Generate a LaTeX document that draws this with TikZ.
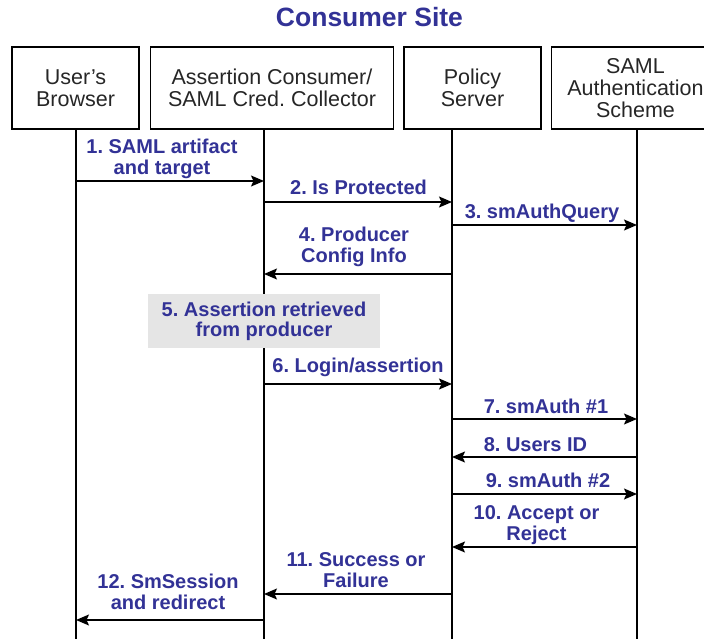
\documentclass[tikz,border=0pt]{standalone}
\usepackage{fontspec}
\setmainfont{Liberation Sans}
\usetikzlibrary{arrows.meta, positioning}

\definecolor{msgblue}{RGB}{50,50,150}
\frenchspacing

\begin{document}
\begin{tikzpicture}
  [x = 1pt, y = -1pt,
   actor/.style    = {draw, line width = 1.5pt, inner sep = 0pt, align = center,
                      minimum height = 82pt, text = black!85,
                      font = \fontsize{21.5}{22}\selectfont},
   lifeline/.style = {line width = 1.5pt},
   msg/.style      = {line width = 1.5pt,
                      -{Stealth[length = 13pt, width = 11pt, inset = 2.5pt]}},
   lbl/.style      = {anchor = north, inner sep = 0pt, align = center,
                      text = msgblue, font = \fontsize{20}{21}\selectfont\bfseries},
   note/.style     = {fill = black!10, inner sep = 0pt, align = center,
                      text = msgblue, font = \fontsize{20}{20}\selectfont\bfseries}]

  \useasboundingbox (0,0) rectangle (704,639);
  \clip (0,0) rectangle (704,639);

  \node[lbl, anchor = base, font = \fontsize{26.5}{30}\selectfont\bfseries]
    (title) at (369.5,27) {Consumer Site};

  \node[actor, minimum width = 127pt] (browser)   at (75.5,88)          {User's\\Browser};
  \node[actor, minimum width = 243pt] (collector) [right = 10pt of browser]   {Assertion Consumer/\\SAML Cred. Collector};
  \node[actor, minimum width = 137pt] (policy)    [right = 9pt of collector]  {Policy\\Server};
  \node[actor, minimum width = 168pt] (scheme)    [right = 9pt of policy]     {SAML\\Authentication\\Scheme};

  \coordinate (browser end)   at (76,639);
  \coordinate (collector end) at (264,639);
  \coordinate (policy end)    at (452,639);
  \coordinate (scheme end)    at (637,639);

  \draw[lifeline] (browser end |- browser.south)     -- (browser end);
  \draw[lifeline] (collector end |- collector.south) -- (collector end);
  \draw[lifeline] (policy end |- policy.south)       -- (policy end);
  \draw[lifeline] (scheme end |- scheme.south)       -- (scheme end);

  \node[note, minimum width = 232pt, minimum height = 54pt]
    (retrieved) at (264,321) {5. Assertion retrieved\\from producer};

  \node[lbl] (artifact)  at (162,138.5)   {1. SAML artifact\\and target};
  \node[lbl] (protected) at (358.5,179.5) {2. Is Protected};
  \node[lbl] (query)     at (542,203.5)   {3. smAuthQuery};
  \node[lbl] (config)    at (354,226.5)   {4. Producer\\Config Info};
  \node[lbl] (login)     at (358,357.5)   {6. Login/assertion};
  \node[lbl] (auth one)  at (546,398.5)   {7. smAuth \#1};
  \node[lbl] (users id)  at (535.5,437.5) {8. Users ID};
  \node[lbl] (auth two)  at (548,472.5)   {9. smAuth \#2};
  \node[lbl] (accept)    at (536.5,505.5) {10. Accept or\\Reject};
  \node[lbl] (success)   at (356,552.5)   {11. Success or\\Failure};
  \node[lbl] (session)   at (168,573.5)   {12. SmSession\\and redirect};

  \draw[msg] (browser end |- 0,181)   -- (collector end |- 0,181);
  \draw[msg] (collector end |- 0,202) -- (policy end |- 0,202);
  \draw[msg] (policy end |- 0,225)    -- (scheme end |- 0,225);
  \draw[msg] (policy end |- 0,274)    -- (collector end |- 0,274);
  \draw[msg] (collector end |- 0,384) -- (policy end |- 0,384);
  \draw[msg] (policy end |- 0,419)    -- (scheme end |- 0,419);
  \draw[msg] (scheme end |- 0,457)    -- (policy end |- 0,457);
  \draw[msg] (policy end |- 0,494)    -- (scheme end |- 0,494);
  \draw[msg] (scheme end |- 0,547)    -- (policy end |- 0,547);
  \draw[msg] (policy end |- 0,594)    -- (collector end |- 0,594);
  \draw[msg] (collector end |- 0,620) -- (browser end |- 0,620);
\end{tikzpicture}
\end{document}
